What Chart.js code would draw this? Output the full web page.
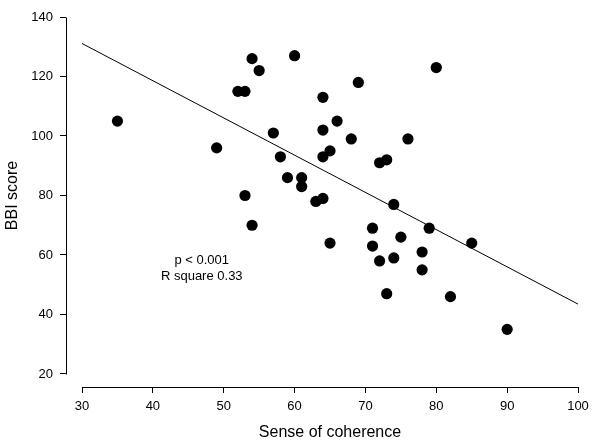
<!DOCTYPE html>
<html><head><meta charset="utf-8">
<script src="https://cdn.jsdelivr.net/npm/chart.js@4"></script>
<style>html,body{margin:0;padding:0;background:#fff}#wrap{width:600px;height:447px}</style>
</head><body><div id="wrap"><canvas id="c" width="600" height="447"></canvas></div>
<script>
const senseOfCoherence = [35,49,52,53,54,55,60,57,58,59,53,54,80,69,64,66,64,68,76,65,64,72,73,61,61,63,64,74,71,79,65,85,71,75,78,72,74,78,73,82,90];
const bbiScore = [105,96,115,115,126,122,127,101,93,86,80,70,123,118,113,105,102,99,99,95,93,91,92,86,83,78,79,77,69,69,64,64,63,66,61,58,59,55,47,46,35];
const fitX = [30,100];
const fitY = [131.1,43.5];
const xTicks = [30,40,50,60,70,80,90,100];
const yTicks = [20,40,60,80,100,120,140];
const xTitle = 'Sense of coherence';
const yTitle = 'BBI score';
const annotation = ['p < 0.001','R square 0.33'];
const annotationPos = {x:46.9, y:[58.1,52.9]};

const FONT = '"Liberation Sans", Arial, Helvetica, sans-serif';
Chart.defaults.font.family = FONT;
Chart.defaults.color = '#000';

const axesPlugin = {
  id:'axesPlugin',
  afterDraw(chart){
    const {ctx, scales:{x,y}, chartArea} = chart;
    ctx.save();
    ctx.strokeStyle = '#000';
    ctx.lineWidth = 1;
    const x0 = x.getPixelForValue(xTicks[0]), x1 = x.getPixelForValue(xTicks[xTicks.length-1]);
    const y0 = y.getPixelForValue(yTicks[0]), y1 = y.getPixelForValue(yTicks[yTicks.length-1]);
    const yb = Math.round(chartArea.bottom) + 0.5;
    const xl = Math.round(chartArea.left) + 0.5;
    ctx.beginPath(); ctx.moveTo(Math.round(x0)+0.5, yb); ctx.lineTo(Math.round(x1)+0.5, yb); ctx.stroke();
    ctx.beginPath(); ctx.moveTo(xl, Math.round(y0)+0.5); ctx.lineTo(xl, Math.round(y1)+0.5); ctx.stroke();
    // titles
    ctx.fillStyle = '#000';
    ctx.font = '16px ' + FONT;
    ctx.textAlign = 'center';
    ctx.textBaseline = 'middle';
    ctx.fillText(xTitle, (x0+x1)/2, chartArea.bottom + 46);
    ctx.save();
    ctx.translate(chartArea.left - 53, (y0+y1)/2);
    ctx.rotate(-Math.PI/2);
    ctx.fillText(yTitle, 0, 0);
    ctx.restore();
    // annotation
    ctx.font = '13px ' + FONT;
    annotation.forEach((t,i)=>{
      ctx.fillText(t, x.getPixelForValue(annotationPos.x), y.getPixelForValue(annotationPos.y[i]));
    });
    ctx.restore();
  }
};

const points = senseOfCoherence.map((v,i)=>({x:v, y:bbiScore[i]}));
const fit = fitX.map((v,i)=>({x:v, y:fitY[i]}));

new Chart(document.getElementById('c'), {
  type:'scatter',
  data:{datasets:[
    {label:'BBI', data:points, backgroundColor:'#000', borderWidth:0, pointRadius:5.6, pointHoverRadius:5.6},
    {label:'fit', data:fit, type:'line', showLine:true, borderColor:'#000', borderWidth:1, pointRadius:0, fill:false, tension:0}
  ]},
  options:{
    responsive:false,
    animation:false,
    events:[],
    layout:{padding:{top:17, right:22, left:0, bottom:0}},
    plugins:{legend:{display:false}, tooltip:{enabled:false}},
    scales:{
      x:{
        type:'linear', min:27.74, max:100,
        afterBuildTicks(s){ s.ticks = xTicks.map(v=>({value:v})); },
        afterFit(s){ s.height = 60; },
        grid:{display:true, drawOnChartArea:false, drawTicks:true, tickLength:6, color:'#000', lineWidth:1},
        border:{display:false},
        ticks:{font:{size:13}, color:'#000', padding:6, maxRotation:0, autoSkip:false}
      },
      y:{
        type:'linear', min:15.63, max:140,
        afterBuildTicks(s){ s.ticks = yTicks.map(v=>({value:v})); },
        afterFit(s){ s.width = 66; },
        grid:{display:true, drawOnChartArea:false, drawTicks:true, tickLength:6, color:'#000', lineWidth:1},
        border:{display:false},
        ticks:{font:{size:13}, color:'#000', padding:7, autoSkip:false}
      }
    }
  },
  plugins:[axesPlugin]
});
</script></body></html>
